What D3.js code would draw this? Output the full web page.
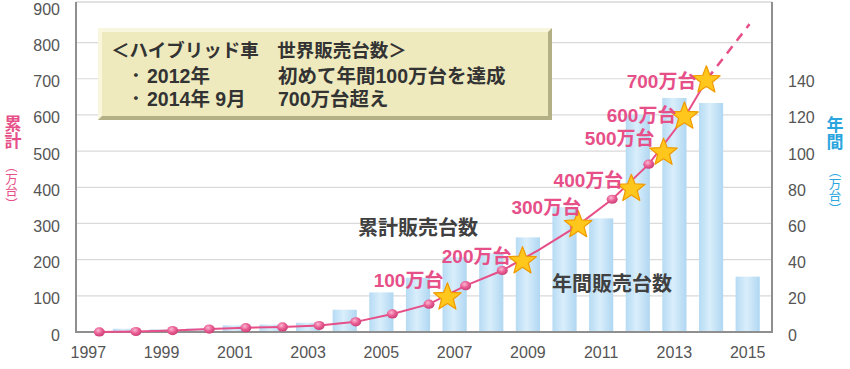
<!DOCTYPE html>
<html><head><meta charset="utf-8">
<script src="https://cdn.jsdelivr.net/npm/d3@7/dist/d3.min.js"></script>
<style>
html,body{margin:0;padding:0;background:#fff;}
svg{display:block;font-family:"Liberation Sans",Arial,"Noto Sans CJK JP",sans-serif;}
.vt{writing-mode:vertical-rl;}
</style></head><body>
<svg id="chart" width="850" height="369"></svg>
<script>
// ---------- data ----------
const years = [1997,1998,1999,2000,2001,2002,2003,2004,2005,2006,2007,2008,2009,2010,2011,2012,2013,2014,2015];
const annualSales = [0.3,1.8,1.5,1.9,3.7,4.1,5.1,12.3,21.9,30,41.3,43.5,52.3,69,62.8,120,129.4,126.6,30.6];
const cumYears = [1997,1998,1999,2000,2001,2002,2003,2004,2005,2006,2007,2008,2009,2010,2011,2012,2013];
const cumSales = [0.3,1.4,4,8,12,14,18,28,50,77,128,170,227,290,367,464,597];
const hiddenMarkers = [2009,2013];
const milestoneValues = [100,200,300,400,500,600,700];
const milestoneTimes = [2006.53,2008.58,2010.1,2011.55,2012.43,2013.0,2013.6];
const milestoneLabels = ["100万台","200万台","300万台","400万台","500万台","600万台","700万台"];
const projTimes = [2013.6,2014.75];
const projValues = [700,851];
const leftTicks = [0,100,200,300,400,500,600,700,800,900];
const rightTicks = [0,20,40,60,80,100,120,140];
const xTickYears = [1997,1999,2001,2003,2005,2007,2009,2011,2013,2015];

// label layout offsets relative to star (dx to text end, dy baseline)
const labelOffsets = [[-5,-9],[-12,3],[2,-9],[-9,0],[-10,-6],[-9,7],[-11,9]];

// ---------- layout ----------
const svg = d3.select("#chart");
const L = 76, R = 772, T = 2, B = 332;
const pink = "#e64f88", blue = "#2aa5de", tickCol = "#555";

const x = d3.scaleBand().domain(years).range([70, 766]).paddingInner(0.34).paddingOuter(0.17);
const xc = d => x(d) + x.bandwidth() / 2;
const xLine = d3.scaleLinear().domain([1997, 2015]).range([xc(1997) + 11, xc(2015) + 11]);
const yL = d3.scaleLinear().domain([0, 900]).range([B, 6.4]);
const yR = d3.scaleLinear().domain([0, 180]).range([B, 6.4]);

const defs = svg.append("defs");
const bg = defs.append("linearGradient").attr("id", "barGrad").attr("x1", 0).attr("x2", 1).attr("y1", 0).attr("y2", 0);
bg.append("stop").attr("offset", 0).attr("stop-color", "#b6dbf4");
bg.append("stop").attr("offset", 0.45).attr("stop-color", "#d9eefb");
bg.append("stop").attr("offset", 1).attr("stop-color", "#b0d7f2");
const dg = defs.append("radialGradient").attr("id", "dotGrad").attr("cx", 0.4).attr("cy", 0.35).attr("r", 0.7);
dg.append("stop").attr("offset", 0).attr("stop-color", "#fbb8d2");
dg.append("stop").attr("offset", 0.5).attr("stop-color", "#ea5f95");
dg.append("stop").attr("offset", 1).attr("stop-color", "#c93a72");

// gridlines
svg.append("g").selectAll("line").data(leftTicks.filter(d => d > 0 && d < 900)).join("line")
  .attr("x1", L + 1).attr("x2", R - 1)
  .attr("y1", d => yL(d)).attr("y2", d => yL(d))
  .attr("stroke", "#dadada").attr("stroke-width", 1.2);

// bars
svg.append("g").selectAll("rect").data(years).join("rect")
  .attr("x", d => x(d)).attr("width", x.bandwidth())
  .attr("y", (d, i) => yR(annualSales[i]))
  .attr("height", (d, i) => B - yR(annualSales[i]))
  .attr("fill", "url(#barGrad)");

// frame
svg.append("line").attr("x1", L).attr("x2", R).attr("y1", T).attr("y2", T).attr("stroke", "#c4c4c4").attr("stroke-width", 1);
svg.append("path").attr("d", `M${L},${T}V${B}H${R}V${T}`).attr("fill", "none").attr("stroke", "#8f8f8f").attr("stroke-width", 2);

// axes
const axL = svg.append("g").attr("transform", `translate(${L},0)`)
  .call(d3.axisLeft(yL).tickValues(leftTicks).tickSize(0).tickPadding(16));
const axR = svg.append("g").attr("transform", `translate(${R},0)`)
  .call(d3.axisRight(yR).tickValues(rightTicks).tickSize(0).tickPadding(16));
const axB = svg.append("g").attr("transform", `translate(0,${B})`)
  .call(d3.axisBottom(x).tickValues(xTickYears).tickSize(0).tickPadding(15));
[axL, axR, axB].forEach(g => {
  g.select(".domain").remove();
  g.selectAll("text").attr("font-size", 16).attr("fill", tickCol)
    .attr("font-family", '"Liberation Sans", Arial, sans-serif');
});
axL.selectAll("text").attr("dy", "0.5em");
axR.selectAll("text").attr("dy", "0.5em");

// info box
const bx = 98, by = 28, bw = 454, bh = 92, bv = 4;
const box = svg.append("g");
box.append("rect").attr("x", bx).attr("y", by).attr("width", bw).attr("height", bh).attr("fill", "#eeeabd");
box.append("path").attr("d", `M${bx},${by}H${bx+bw}L${bx+bw-bv},${by+bv}H${bx+bv}V${by+bh-bv}L${bx},${by+bh}Z`).attr("fill", "#f8f6dc");
box.append("path").attr("d", `M${bx+bw},${by}V${by+bh}H${bx}L${bx+bv},${by+bh-bv}H${bx+bw-bv}V${by+bv}Z`).attr("fill", "#b4b086");
const boxText = box.append("g").attr("fill", "#333").attr("font-weight", "bold");
boxText.append("text").attr("x", 111).attr("y", 57).attr("font-size", 18.5).text("＜ハイブリッド車　世界販売台数＞");
const l2 = boxText.append("text").attr("y", 83).attr("font-size", 19.5);
l2.append("tspan").attr("x", 131).text("･");
l2.append("tspan").attr("x", 147).text("2012年");
l2.append("tspan").attr("x", 278).text("初めて年間100万台を達成");
const l3 = boxText.append("text").attr("y", 106).attr("font-size", 19.5);
l3.append("tspan").attr("x", 131).text("･");
l3.append("tspan").attr("x", 147).text("2014年 9月");
l3.append("tspan").attr("x", 278).text("700万台超え");

// cumulative line
const lineGen = d3.line().x(d => xLine(d[0])).y(d => yL(d[1]));
const solidPts = cumYears.map((d, i) => [d, cumSales[i]]).concat([[milestoneTimes[6], milestoneValues[6]]]);
svg.append("path").attr("d", lineGen(solidPts)).attr("fill", "none").attr("stroke", pink).attr("stroke-width", 2);
svg.append("path").attr("d", lineGen(projTimes.map((d, i) => [d, projValues[i]])))
  .attr("fill", "none").attr("stroke", pink).attr("stroke-width", 2.5).attr("stroke-dasharray", "9,7");

// markers
svg.append("g").selectAll("ellipse").data(cumYears.filter(d => !hiddenMarkers.includes(d))).join("ellipse")
  .attr("cx", d => xLine(d)).attr("cy", d => yL(cumSales[cumYears.indexOf(d)]))
  .attr("rx", 5.5).attr("ry", 4.6).attr("fill", "url(#dotGrad)");

// stars
function starPath(cx, cy, R, r) {
  const pts = [];
  for (let k = 0; k < 10; k++) {
    const a = -Math.PI / 2 + k * Math.PI / 5;
    const rr = k % 2 ? r : R;
    pts.push([cx + rr * Math.cos(a), cy + rr * Math.sin(a)]);
  }
  return "M" + pts.map(p => p.join(",")).join("L") + "Z";
}
svg.append("g").selectAll("path").data(milestoneValues).join("path")
  .attr("d", (d, i) => starPath(xLine(milestoneTimes[i]) - 1, yL(d) + 1.5, 14.5, 6.2))
  .attr("fill", "#ffc61c").attr("stroke", "#f09a00").attr("stroke-width", 1.2).attr("stroke-linejoin", "round");

// milestone labels
svg.append("g").selectAll("text").data(milestoneLabels).join("text")
  .attr("x", (d, i) => xLine(milestoneTimes[i]) + labelOffsets[i][0])
  .attr("y", (d, i) => yL(milestoneValues[i]) + labelOffsets[i][1])
  .attr("text-anchor", "end").attr("font-size", 19).attr("font-weight", "bold")
  .attr("fill", pink).text(d => d);

// series annotations
svg.append("text").attr("x", 418).attr("y", 235).attr("text-anchor", "middle")
  .attr("font-size", 20).attr("font-weight", "bold").attr("fill", "#404040").text("累計販売台数");
svg.append("text").attr("x", 612).attr("y", 291).attr("text-anchor", "middle")
  .attr("font-size", 20).attr("font-weight", "bold").attr("fill", "#404040").text("年間販売台数");

// axis titles (vertical)
function vtitle(cx, top, str, size, color, weight) {
  svg.append("text").attr("class", "vt").attr("x", cx).attr("y", top)
    .attr("fill", color).attr("font-weight", weight).attr("font-size", size)
    .attr("font-family", '"Noto Sans CJK JP", sans-serif').text(str);
}
vtitle(13, 115, "累計", 17, pink, "bold");
vtitle(11.5, 160, "（万台）", 12.5, pink, "normal");
vtitle(835, 116, "年間", 17, blue, "bold");
vtitle(835, 165, "（万台）", 12.5, blue, "normal");
</script>
</body></html>
